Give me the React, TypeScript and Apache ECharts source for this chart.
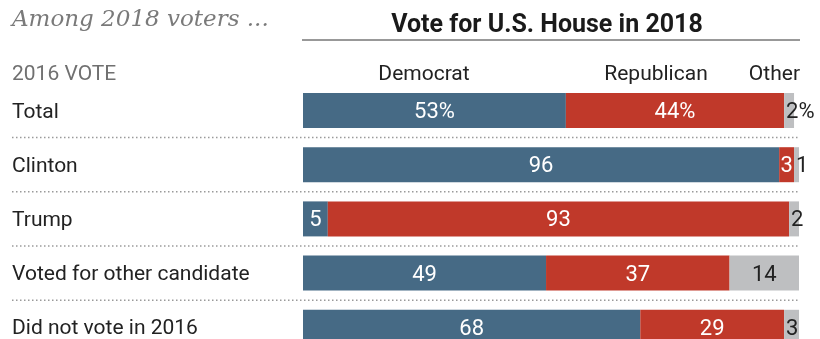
import React, { useEffect, useRef } from "react";
import * as echarts from "echarts";

const categories = [
  "Total",
  "Clinton",
  "Trump",
  "Voted for other candidate",
  "Did not vote in 2016",
];
const democrat = [53, 96, 5, 49, 68];
const republican = [44, 3, 93, 37, 29];
const other = [2, 1, 2, 14, 3];
const seriesNames = ["Democrat", "Republican", "Other"];
const chartTitle = "Vote for U.S. House in 2018";
const subTitle = "Among 2018 voters ...";
const rowHeader = "2016 VOTE";

const GRID_TOP = 83.4;
const BAND = 54.2;
const GRID_LEFT = 303;
const GRID_W = 496;
const FONT = "Roboto, sans-serif";

export default function App() {
  const ref = useRef<HTMLDivElement>(null);

  useEffect(() => {
    if (!ref.current) return;
    const chart = echarts.init(ref.current, null, { renderer: "svg" });

    const fmt = (p: any) => (p.dataIndex === 0 ? `${p.value}%` : `${p.value}`);
    const baseLabel = {
      show: true,
      fontSize: 22,
      fontFamily: FONT,
      formatter: fmt,
    };

    const dividers = [1, 2, 3, 4].map((k) => ({
      type: "line",
      shape: { x1: 12, y1: GRID_TOP + k * BAND, x2: 800, y2: GRID_TOP + k * BAND },
      style: { stroke: "#9a9a9a", lineWidth: 1.5, lineDash: [1.5, 2.5] },
      silent: true,
    }));

    const headerX = [424, 656, 800];
    const headers = seriesNames.map((n, i) => ({
      type: "text",
      style: {
        text: n,
        x: headerX[i],
        y: 73,
        textAlign: i === 2 ? "right" : "center",
        textVerticalAlign: "middle",
        fontSize: 21,
        fontFamily: FONT,
        fill: "#222",
      },
    }));

    chart.setOption({
      animation: false,
      grid: {
        left: GRID_LEFT,
        width: GRID_W,
        top: GRID_TOP,
        height: BAND * categories.length,
        containLabel: false,
      },
      xAxis: { type: "value", min: 0, max: 100, show: false },
      yAxis: {
        type: "category",
        data: categories,
        inverse: true,
        axisLine: { show: false },
        axisTick: { show: false },
        splitLine: { show: false },
        axisLabel: {
          align: "left",
          margin: GRID_LEFT - 12,
          fontSize: 21,
          fontFamily: FONT,
          color: "#222",
        },
      },
      graphic: [
        {
          type: "text",
          style: {
            text: subTitle,
            x: 12,
            y: 18,
            textVerticalAlign: "middle",
            fontSize: 23,
            fontStyle: "italic",
            fontFamily: "DejaVu Serif, serif",
            fill: "#7a7a7a",
          },
        },
        {
          type: "text",
          style: {
            text: chartTitle,
            x: 547,
            y: 23,
            textAlign: "center",
            textVerticalAlign: "middle",
            fontSize: 25,
            fontWeight: "bold",
            fontFamily: FONT,
            fill: "#1a1a1a",
          },
        },
        {
          type: "line",
          shape: { x1: 302, y1: 40, x2: 800, y2: 40 },
          style: { stroke: "#333", lineWidth: 1 },
        },
        {
          type: "text",
          style: {
            text: rowHeader,
            x: 12,
            y: 73,
            textVerticalAlign: "middle",
            fontSize: 21,
            fontFamily: FONT,
            fill: "#707070",
          },
        },
        ...headers,
        ...dividers,
      ],
      series: [
        {
          name: seriesNames[0],
          type: "bar",
          stack: "vote",
          barWidth: 35,
          itemStyle: { color: "#466a85" },
          label: { ...baseLabel, position: "inside", color: "#fff" },
          data: democrat,
        },
        {
          name: seriesNames[1],
          type: "bar",
          stack: "vote",
          barWidth: 35,
          itemStyle: { color: "#c0392a" },
          label: { ...baseLabel, position: "inside", color: "#fff" },
          data: republican,
        },
        {
          name: seriesNames[2],
          type: "bar",
          stack: "vote",
          barWidth: 35,
          itemStyle: { color: "#bebfc1" },
          label: { ...baseLabel, position: "inside", color: "#222" },
          data: other.map((v) =>
            v < 10
              ? { value: v, label: { position: "insideLeft", distance: 2 } }
              : { value: v }
          ),
        },
      ],
    });

    return () => chart.dispose();
  }, []);

  return (
    <div
      style={{
        position: "fixed",
        left: 0,
        top: 0,
        width: 820,
        height: 339,
        overflow: "hidden",
      }}
    >
      <div ref={ref} style={{ width: 820, height: 380 }} />
    </div>
  );
}
